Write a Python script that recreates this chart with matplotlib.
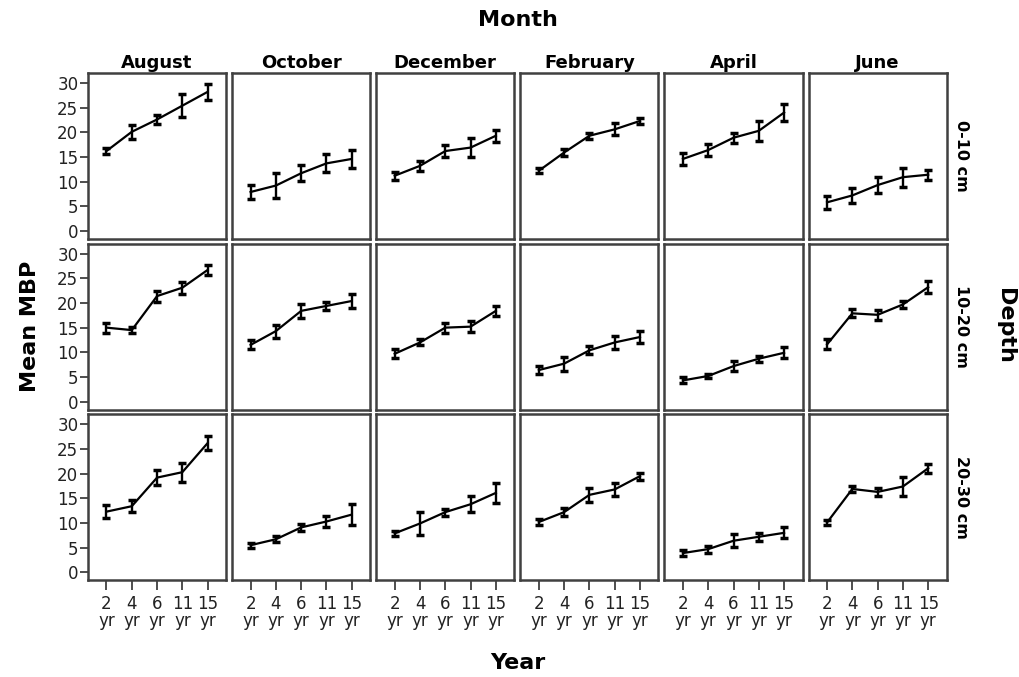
import matplotlib
matplotlib.use("Agg")
from matplotlib import pyplot as plt

months = ["August", "October", "December", "February", "April", "June"]
depths = ["0-10 cm", "10-20 cm", "20-30 cm"]
years = ["2\nyr", "4\nyr", "6\nyr", "11\nyr", "15\nyr"]

# mean MBP, one row per month (Aug .. Jun), columns = 2,4,6,11,15 yr
mean_0_10 = [
    [16.2, 20.1, 22.6, 25.4, 28.2],
    [7.9, 9.2, 11.7, 13.7, 14.6],
    [11.2, 13.2, 16.2, 16.9, 19.3],
    [12.2, 15.9, 19.3, 20.6, 22.3],
    [14.6, 16.4, 18.9, 20.3, 24.0],
    [5.8, 7.2, 9.3, 10.9, 11.4],
]
err_0_10 = [
    [0.7, 1.4, 1.0, 2.3, 1.6],
    [1.4, 2.6, 1.6, 1.8, 1.9],
    [0.8, 1.0, 1.2, 1.9, 1.2],
    [0.5, 0.7, 0.6, 1.2, 0.6],
    [1.2, 1.2, 1.0, 2.0, 1.7],
    [1.3, 1.6, 1.7, 1.9, 1.0],
]
mean_10_20 = [
    [15.0, 14.5, 21.4, 23.1, 26.7],
    [11.5, 14.3, 18.4, 19.4, 20.4],
    [9.7, 12.0, 15.0, 15.2, 18.4],
    [6.4, 7.7, 10.4, 12.0, 13.1],
    [4.3, 5.2, 7.2, 8.7, 9.9],
    [11.6, 17.9, 17.6, 19.7, 23.2],
]
err_10_20 = [
    [1.0, 0.6, 1.1, 1.2, 1.0],
    [0.9, 1.3, 1.4, 0.9, 1.5],
    [0.9, 0.6, 1.0, 1.1, 1.0],
    [0.8, 1.4, 0.8, 1.4, 1.2],
    [0.6, 0.5, 1.0, 0.6, 1.1],
    [1.0, 0.8, 1.0, 0.7, 1.2],
]
mean_20_30 = [
    [12.3, 13.4, 19.2, 20.3, 26.2],
    [5.5, 6.7, 9.1, 10.3, 11.7],
    [7.9, 9.9, 12.2, 13.8, 16.1],
    [10.2, 12.2, 15.7, 16.8, 19.5],
    [3.9, 4.7, 6.4, 7.2, 8.0],
    [10.1, 16.9, 16.3, 17.4, 21.1],
]
err_20_30 = [
    [1.3, 1.2, 1.6, 1.9, 1.4],
    [0.5, 0.6, 0.7, 1.1, 2.1],
    [0.5, 2.3, 0.7, 1.6, 2.1],
    [0.6, 0.8, 1.4, 1.3, 0.7],
    [0.6, 0.7, 1.3, 0.8, 1.1],
    [0.6, 0.6, 0.8, 1.9, 0.9],
]

MEANS = [mean_0_10, mean_10_20, mean_20_30]
ERRS = [err_0_10, err_10_20, err_20_30]

fig, axes = plt.subplots(3, 6, figsize=(10.19, 6.77), dpi=100, sharex=True, sharey=True)
fig.subplots_adjust(left=0.0864, right=0.929, top=0.892, bottom=0.143, wspace=0.044, hspace=0.03)

x = list(range(len(years)))
for r in range(3):
    for c in range(6):
        ax = axes[r][c]
        ax.errorbar(x, MEANS[r][c], yerr=ERRS[r][c], color="black", lw=1.6,
                    elinewidth=1.7, capsize=2.6, capthick=2.5)
        ax.set_xlim(-0.73, 4.73)
        ax.set_ylim(-1.6, 32)
        ax.set_yticks([0, 5, 10, 15, 20, 25, 30])
        ax.set_xticks(x)
        ax.set_xticklabels(years)
        for s in ax.spines.values():
            s.set_color("#404040")
            s.set_linewidth(1.8)
        ax.tick_params(axis="y", length=6, width=1.3, pad=1, labelsize=12,
                       color="#404040", labelcolor="#222222")
        ax.tick_params(axis="x", length=7, width=1.3, pad=3.5, labelsize=12,
                       color="#404040", labelcolor="#222222")
        for lbl in ax.get_xticklabels():
            lbl.set_linespacing(0.95)
        if c > 0:
            ax.tick_params(left=False)
        if r < 2:
            ax.tick_params(bottom=False)
        if r == 0:
            ax.set_title(months[c], fontsize=13, fontweight="bold", pad=4)
        if c == 5:
            ax.text(1.11, 0.5, depths[r], transform=ax.transAxes, rotation=-90,
                    ha="center", va="center", fontsize=11.5, fontweight="bold")

fig.text(0.508, 0.970, "Month", ha="center", va="center", fontsize=16, fontweight="bold")
fig.text(0.508, 0.021, "Year", ha="center", va="center", fontsize=16, fontweight="bold")
fig.text(0.029, 0.518, "Mean MBP", ha="center", va="center", rotation=90, fontsize=16, fontweight="bold")
fig.text(0.986, 0.518, "Depth", ha="center", va="center", rotation=-90, fontsize=16, fontweight="bold")

fig.savefig("out.png", dpi=100)
